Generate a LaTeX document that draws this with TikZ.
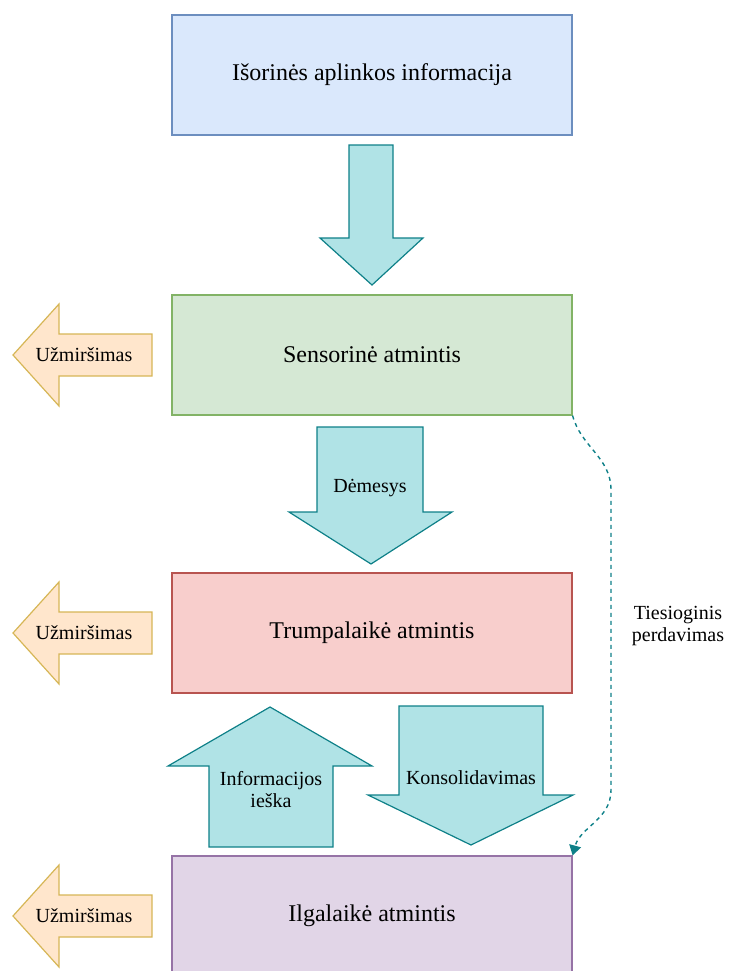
\documentclass[tikz,border=0pt]{standalone}
\usepackage{fontspec}
\setmainfont{Liberation Serif}
\usetikzlibrary{arrows.meta}
\definecolor{blueFill}{HTML}{DAE8FC}
\definecolor{blueLine}{HTML}{6C8EBF}
\definecolor{greenFill}{HTML}{D5E8D4}
\definecolor{greenLine}{HTML}{82B366}
\definecolor{redFill}{HTML}{F8CECC}
\definecolor{redLine}{HTML}{B85450}
\definecolor{purpleFill}{HTML}{E1D5E7}
\definecolor{purpleLine}{HTML}{9673A6}
\definecolor{tealFill}{HTML}{B0E3E6}
\definecolor{tealLine}{HTML}{0E8088}
\definecolor{peachFill}{HTML}{FFE6CC}
\definecolor{peachLine}{HTML}{D6B656}
\tikzset{
  centered/.style = { align=center, anchor=center },
     stage/.style = { draw, line width=1.2pt, minimum width=400pt, minimum height=120pt,
                      inner sep=0pt, font=\fontsize{24}{28}\selectfont, centered },
       tag/.style = { font=\fontsize{20}{22}\selectfont, centered },
      flow/.style = { fill=tealFill, draw=tealLine, line width=1.2pt, line join=miter },
    forget/.style = { fill=peachFill, draw=peachLine, line width=1.2pt, line join=miter },
     dlink/.style = { dashed, dash pattern=on 4pt off 4pt, line width=1.4pt, color=tealLine,
                      -{Triangle[width=12pt,length=10pt]} }
}
\begin{document}
\begin{tikzpicture}[x=1pt, y=-1pt]
  \useasboundingbox (0,0) rectangle (728,971);

  \node[stage, fill=blueFill,   draw=blueLine]   (outer) at (372,75)  {Išorinės aplinkos informacija};
  \node[stage, fill=greenFill,  draw=greenLine]  (sens)  at (372,355) {Sensorinė atmintis};
  \node[stage, fill=redFill,    draw=redLine]    (short) at (372,633) {Trumpalaikė atmintis};
  \node[stage, fill=purpleFill, draw=purpleLine] (long)  at (372,916) {Ilgalaikė atmintis};

  % block arrows between the stages
  \draw[flow] (349,145) -- (393,145) -- (393,238) -- (423,238) -- (372,285)
              -- (320,238) -- (349,238) -- cycle;
  \draw[flow] (317,427) -- (423,427) -- (423,512) -- (452,512) -- (371,564)
              -- (289,512) -- (317,512) -- cycle;
  \node[tag] (attention) at (370,488) {Dėmesys};
  \draw[flow] (209,847) -- (333,847) -- (333,766) -- (372,766) -- (270,707)
              -- (168,766) -- (209,766) -- cycle;
  \node[tag] (retrieval) at (271,790) {Informacijos\\ieška};
  \draw[flow] (399,706) -- (543,706) -- (543,795) -- (573,795) -- (471,845)
              -- (368,795) -- (399,795) -- cycle;
  \node[tag] (consol) at (471,778) {Konsolidavimas};

  \foreach \y/\n in {355/a, 633/b, 916/c} {
    \draw[forget] (13,\y) -- (59,{\y-51}) -- (59,{\y-21}) -- (152,{\y-21})
                  -- (152,{\y+21}) -- (59,{\y+21}) -- (59,{\y+51}) -- cycle;
    \node[tag] (forget-\n) at (84,\y) {Užmiršimas};
  }

  \coordinate (bendA) at (611,490);
  \coordinate (bendB) at (611,790);
  \draw[dlink] (sens.south east) to[out=-75, in=90] (bendA) -- (bendB)
               to[out=-90, in=75] (long.north east);
  \node[tag] (direct) at (678,626) {Tiesioginis\\perdavimas};
\end{tikzpicture}
\end{document}
